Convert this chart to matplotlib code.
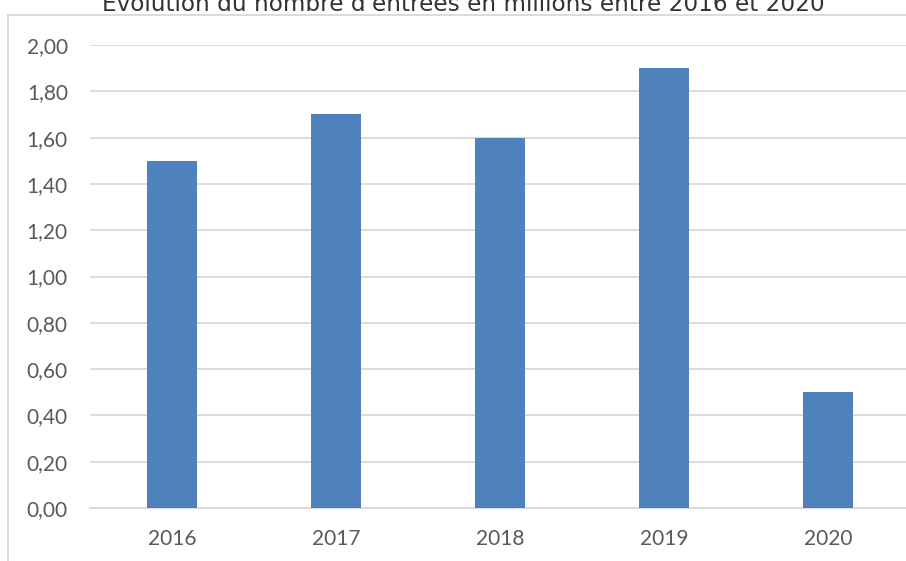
import matplotlib
matplotlib.use("Agg")
import matplotlib.pyplot as plt
from matplotlib.lines import Line2D

# donnees
annees = ["2016", "2017", "2018", "2019", "2020"]
entrees = [1.50, 1.70, 1.60, 1.90, 0.50]
yticks = [0.0, 0.2, 0.4, 0.6, 0.8, 1.0, 1.2, 1.4, 1.6, 1.8, 2.0]

fig = plt.figure(figsize=(9.06, 5.61), dpi=100)
ax = fig.add_axes([90/906, 53/561, 820/906, 463/561])

x = range(len(annees))
ax.bar(x, entrees, width=0.31, color="#4F81BD", zorder=3)

ax.set_xlim(-0.5, 4.5)
ax.set_ylim(0, 2.0)
ax.set_yticks(yticks)
ax.set_yticklabels([f"{v:.2f}".replace(".", ",") for v in yticks])
ax.set_xticks(list(x))
ax.set_xticklabels(annees)

ax.grid(axis="y", color="#d9d9d9", linewidth=1.3, zorder=0)
for s in ["top", "right", "left"]:
    ax.spines[s].set_visible(False)
ax.spines["bottom"].set_color("#d9d9d9")
ax.spines["bottom"].set_linewidth(1.3)
ax.tick_params(axis="both", length=0, labelsize=15, colors="#595959")
ax.tick_params(axis="y", pad=16)
ax.tick_params(axis="x", pad=15)
for lab in ax.get_xticklabels() + ax.get_yticklabels():
    lab.set_fontfamily("Lato")

# cadre du graphique
fig.add_artist(Line2D([8/906, 8/906], [0, 1 - 15/561], color="#d9d9d9", lw=1.3))
fig.add_artist(Line2D([8/906, 1], [1 - 15/561, 1 - 15/561], color="#d9d9d9", lw=1.3))

fig.text(463/906, 1 - 11/561, "Évolution du nombre d'entrées en millions entre 2016 et 2020",
         ha="center", va="baseline", fontsize=16.7, color="#333333", family="DejaVu Sans")

plt.savefig("out.png", dpi=100)
